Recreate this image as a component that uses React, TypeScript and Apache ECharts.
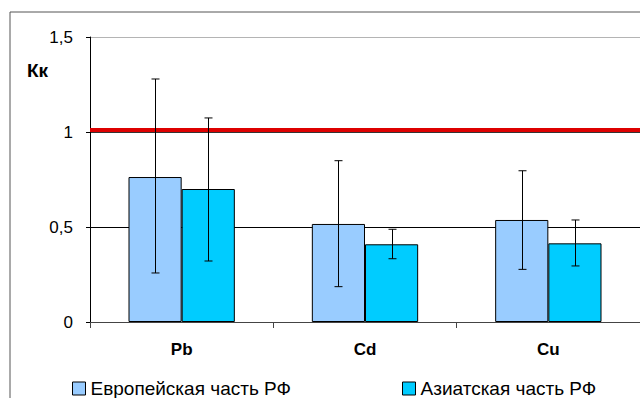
import React, { useEffect, useRef } from "react";
import * as echarts from "echarts";

const categories = ["Pb", "Cd", "Cu"];
const seriesNames = ["Европейская часть РФ", "Азиатская часть РФ"];
const europeValues = [0.763, 0.516, 0.537];
const asiaValues = [0.7, 0.409, 0.414];
const europeLow = [0.258, 0.186, 0.277];
const europeHigh = [1.279, 0.849, 0.796];
const asiaLow = [0.321, 0.333, 0.295];
const asiaHigh = [1.074, 0.488, 0.537];
const thresholdValue = 1.015;
const yTicks = [0, 0.5, 1, 1.5];

const FONT = "'Liberation Sans', Arial, sans-serif";

export default function App() {
  const ref = useRef<HTMLDivElement>(null);
  useEffect(() => {
    if (!ref.current) return;
    const chart = echarts.init(ref.current, undefined, { renderer: "svg" });
    const errData: number[][] = [];
    categories.forEach((_, i) => {
      errData.push([i, europeLow[i], europeHigh[i], 0]);
      errData.push([i, asiaLow[i], asiaHigh[i], 1]);
    });
    const barFrac = 0.29;
    const legendCommon = {
      top: 379,
      padding: 0,
      icon: "rect",
      itemWidth: 13,
      itemHeight: 13,
      itemStyle: { borderColor: "#000", borderWidth: 1 },
      textStyle: { fontSize: 19, fontFamily: FONT, color: "#000" },
    };
    chart.setOption({
      animation: false,
      textStyle: { fontFamily: FONT },
      grid: { left: 90, right: 0, top: 37, bottom: 76, containLabel: false },
      graphic: [
        {
          type: "rect",
          shape: { x: 10, y: 12, width: 800, height: 600 },
          style: { fill: "none", stroke: "#555", lineWidth: 1 },
          z: -1,
        },
        {
          type: "text",
          x: 27,
          y: 61,
          style: { text: "Кк", font: `bold 19px ${FONT}`, fill: "#000" },
        },
      ],
      legend: [
        { ...legendCommon, data: [seriesNames[0]], left: 72 },
        { ...legendCommon, data: [seriesNames[1]], left: 402 },
      ],
      xAxis: {
        type: "category",
        data: categories,
        axisLine: { lineStyle: { color: "#444", width: 1 } },
        axisTick: { show: true, alignWithLabel: false, length: 6, lineStyle: { color: "#444" } },
        axisLabel: { fontSize: 17, fontWeight: "bold", color: "#000", margin: 19, fontFamily: FONT },
      },
      yAxis: {
        type: "value",
        min: 0,
        max: 1.5,
        interval: 0.5,
        axisLine: { show: true, lineStyle: { color: "#000", width: 1 } },
        axisTick: { show: true, length: 4, lineStyle: { color: "#000" } },
        axisLabel: {
          fontSize: 17,
          color: "#000",
          margin: 17,
          fontFamily: FONT,
          formatter: (v: number) => (yTicks.includes(v) ? String(v).replace(".", ",") : ""),
        },
        splitLine: {
          show: true,
          lineStyle: { color: ["#000", "#000", "#333", "#b4b4b4"], width: 1 },
        },
      },
      series: [
        {
          name: seriesNames[0],
          type: "bar",
          data: europeValues,
          barWidth: "29%",
          barGap: "0%",
          itemStyle: { color: "#99ccff", borderColor: "#000", borderWidth: 1 },
          markLine: {
            silent: true,
            symbol: "none",
            label: { show: false },
            lineStyle: { color: "#dd0000", width: 4, type: "solid" },
            data: [{ yAxis: thresholdValue }],
          },
        },
        {
          name: seriesNames[1],
          type: "bar",
          data: asiaValues,
          barWidth: "29%",
          barGap: "0%",
          itemStyle: { color: "#00ccff", borderColor: "#000", borderWidth: 1 },
        },
        {
          type: "custom",
          name: "err",
          data: errData,
          z: 10,
          renderItem: (params: any, api: any) => {
            const cat = api.value(0);
            const lo = api.value(1);
            const hi = api.value(2);
            const s = api.value(3);
            const band = api.size([1, 0])[0];
            const off = (s === 0 ? -1 : 1) * band * barFrac * 0.5;
            const pLo = api.coord([cat, lo]);
            const pHi = api.coord([cat, hi]);
            const x = Math.round(pLo[0] + off) + 0.5;
            const cap = 4;
            const st = { stroke: "#000", lineWidth: 1 };
            return {
              type: "group",
              children: [
                { type: "line", shape: { x1: x, y1: pLo[1], x2: x, y2: pHi[1] }, style: st },
                { type: "line", shape: { x1: x - cap, y1: pLo[1], x2: x + cap, y2: pLo[1] }, style: st },
                { type: "line", shape: { x1: x - cap, y1: pHi[1], x2: x + cap, y2: pHi[1] }, style: st },
              ],
            };
          },
        },
      ],
    });
    return () => chart.dispose();
  }, []);
  return <div ref={ref} style={{ width: 640, height: 398, position: "fixed", left: 0, top: 0, background: "#fff" }} />;
}
